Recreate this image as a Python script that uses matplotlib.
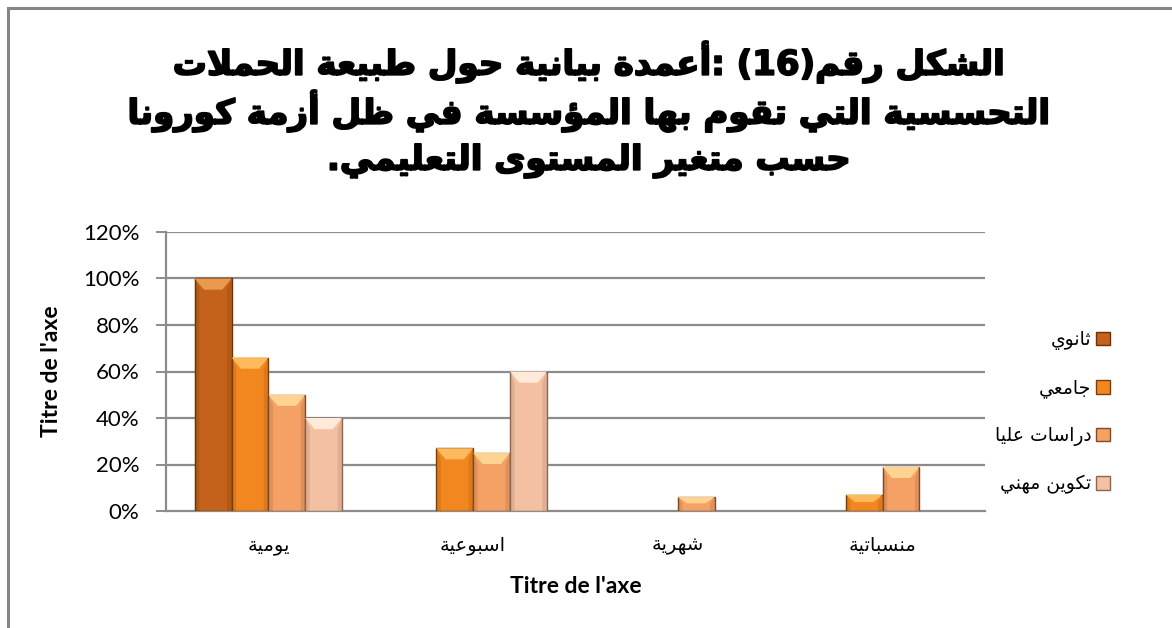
import re
import matplotlib
matplotlib.use("Agg")
import matplotlib.pyplot as plt
import matplotlib.patheffects as pe
from matplotlib.patches import Polygon, Patch
from matplotlib.lines import Line2D

# ---------------- data ----------------
categories = ["يومية", "اسبوعية", "شهرية", "منسباتية"]
series_names = ["ثانوي", "جامعي", "دراسات عليا", "تكوين مهني"]
thanawi = [100, 0, 0, 0]
jamii = [66, 27, 0, 7]
dirasat_olya = [50, 25, 6, 19]
takwin_mihni = [40, 60, 0, 0]
yticks = [0, 20, 40, 60, 80, 100, 120]
ytick_labels = ["0%", "20%", "40%", "60%", "80%", "100%", "120%"]
title_lines = [
    "الشكل رقم(16) :أعمدة بيانية حول طبيعة الحملات",
    "التحسسية التي تقوم بها المؤسسة في ظل أزمة كورونا",
    "حسب متغير المستوى التعليمي.",
]
axis_title = "Titre de l'axe"

# ---------------- Arabic shaping ----------------
FORMS = {
    '\u0621': (0xFE80,), '\u0622': (0xFE81, 0xFE82), '\u0623': (0xFE83, 0xFE84),
    '\u0624': (0xFE85, 0xFE86), '\u0625': (0xFE87, 0xFE88),
    '\u0626': (0xFE89, 0xFE8A, 0xFE8B, 0xFE8C), '\u0627': (0xFE8D, 0xFE8E),
    '\u0628': (0xFE8F, 0xFE90, 0xFE91, 0xFE92), '\u0629': (0xFE93, 0xFE94),
    '\u062A': (0xFE95, 0xFE96, 0xFE97, 0xFE98), '\u062B': (0xFE99, 0xFE9A, 0xFE9B, 0xFE9C),
    '\u062C': (0xFE9D, 0xFE9E, 0xFE9F, 0xFEA0), '\u062D': (0xFEA1, 0xFEA2, 0xFEA3, 0xFEA4),
    '\u062E': (0xFEA5, 0xFEA6, 0xFEA7, 0xFEA8), '\u062F': (0xFEA9, 0xFEAA),
    '\u0630': (0xFEAB, 0xFEAC), '\u0631': (0xFEAD, 0xFEAE), '\u0632': (0xFEAF, 0xFEB0),
    '\u0633': (0xFEB1, 0xFEB2, 0xFEB3, 0xFEB4), '\u0634': (0xFEB5, 0xFEB6, 0xFEB7, 0xFEB8),
    '\u0635': (0xFEB9, 0xFEBA, 0xFEBB, 0xFEBC), '\u0636': (0xFEBD, 0xFEBE, 0xFEBF, 0xFEC0),
    '\u0637': (0xFEC1, 0xFEC2, 0xFEC3, 0xFEC4), '\u0638': (0xFEC5, 0xFEC6, 0xFEC7, 0xFEC8),
    '\u0639': (0xFEC9, 0xFECA, 0xFECB, 0xFECC), '\u063A': (0xFECD, 0xFECE, 0xFECF, 0xFED0),
    '\u0641': (0xFED1, 0xFED2, 0xFED3, 0xFED4), '\u0642': (0xFED5, 0xFED6, 0xFED7, 0xFED8),
    '\u0643': (0xFED9, 0xFEDA, 0xFEDB, 0xFEDC), '\u0644': (0xFEDD, 0xFEDE, 0xFEDF, 0xFEE0),
    '\u0645': (0xFEE1, 0xFEE2, 0xFEE3, 0xFEE4), '\u0646': (0xFEE5, 0xFEE6, 0xFEE7, 0xFEE8),
    '\u0647': (0xFEE9, 0xFEEA, 0xFEEB, 0xFEEC), '\u0648': (0xFEED, 0xFEEE),
    '\u0649': (0xFEEF, 0xFEF0), '\u064A': (0xFEF1, 0xFEF2, 0xFEF3, 0xFEF4),
}
LAM_ALEF = {'\u0622': (0xFEF5, 0xFEF6), '\u0623': (0xFEF7, 0xFEF8),
            '\u0625': (0xFEF9, 0xFEFA), '\u0627': (0xFEFB, 0xFEFC)}


def shape(text):
    chars = list(text)
    units = []
    i = 0
    while i < len(chars):
        c = chars[i]
        if c == '\u0644' and i + 1 < len(chars) and chars[i + 1] in LAM_ALEF:
            units.append(('LA', chars[i + 1]))
            i += 2
        else:
            units.append(('C', c))
            i += 1

    def joins_next(u):
        if u is None:
            return False
        kind, c = u
        if kind == 'LA':
            return False
        return c in FORMS and len(FORMS[c]) == 4

    def is_ar(u):
        if u is None:
            return False
        kind, c = u
        return kind == 'LA' or c in FORMS

    out = []
    for k, u in enumerate(units):
        prev = units[k - 1] if k > 0 else None
        nxt = units[k + 1] if k + 1 < len(units) else None
        kind, c = u
        jp = joins_next(prev) and is_ar(u) and not (kind == 'C' and c == '\u0621')
        if kind == 'LA':
            out.append(chr(LAM_ALEF[c][1] if jp else LAM_ALEF[c][0]))
            continue
        if c not in FORMS:
            out.append(c)
            continue
        f = FORMS[c]
        jn = len(f) == 4 and is_ar(nxt)
        if len(f) == 1:
            out.append(chr(f[0]))
        elif jp and jn:
            out.append(chr(f[3]))
        elif jp:
            out.append(chr(f[1]))
        elif jn:
            out.append(chr(f[2]))
        else:
            out.append(chr(f[0]))
    return ''.join(out)


def ar(text):
    s = shape(text)
    tokens = re.findall(r'[0-9A-Za-z%]+|.', s)
    tokens.reverse()
    mirror = {'(': ')', ')': '('}
    return ''.join(mirror.get(t, t) for t in tokens)


# ---------------- figure ----------------
W, H = 1172, 628
fig = plt.figure(figsize=(W / 100, H / 100), dpi=100)
fig.patch.set_facecolor("white")


def fx(px):
    return px / W


def fy(py):
    return 1 - py / H


# outer chart border (top and left visible)
fig.add_artist(Line2D([fx(8), fx(1172)], [fy(8), fy(8)], color="#868686", lw=2.2))
fig.add_artist(Line2D([fx(8), fx(8)], [fy(8), fy(628)], color="#868686", lw=2.2))

ax = fig.add_axes([fx(166), fy(511), fx(985) - fx(166), fy(232) - fy(511)])
ax.set_xlim(-0.5, 3.5)
ax.set_ylim(0, 120)

series = [thanawi, jamii, dirasat_olya, takwin_mihni]
face = ["#C4621B", "#F2871F", "#F5A166", "#F3C0A2"]
cap = ["#E99A4E", "#FDBA5C", "#FFD392", "#FFE9D8"]
edge = ["#6B3208", "#7A3E0C", "#7F4A24", "#8A6550"]
bw = 0.18
grid_c = "#8C8C8C"

for yv in yticks[1:]:
    ax.axhline(yv, color=grid_c, lw=1.6, zorder=1)

for j, vals in enumerate(series):
    xs = [i + (j - 1.5) * bw for i in range(len(categories))]
    bars = ax.bar(xs, vals, width=bw, color=face[j], edgecolor=edge[j], lw=1.0, zorder=3)
    for b in bars:
        h = b.get_height()
        if h <= 0:
            b.set_visible(False)
            continue
        x0 = b.get_x()
        x1 = x0 + b.get_width()
        dy = min(4.8, h * 0.45)
        dx = 0.045
        ax.add_patch(Polygon([(x0, h), (x1, h), (x1 - dx, h - dy), (x0 + dx, h - dy)],
                             closed=True, facecolor=cap[j], edgecolor="none", zorder=4))
        ax.add_patch(Polygon([(x0, 0), (x0, h), (x0 + dx * 0.5, h - dy), (x0 + dx * 0.5, 0)],
                             closed=True, facecolor=edge[j], alpha=0.18, edgecolor="none", zorder=4))
        ax.add_patch(Polygon([(x1, 0), (x1, h), (x1 - dx * 0.5, h - dy), (x1 - dx * 0.5, 0)],
                             closed=True, facecolor=edge[j], alpha=0.18, edgecolor="none", zorder=4))

for s in ["top", "right"]:
    ax.spines[s].set_visible(False)
for s in ["left", "bottom"]:
    ax.spines[s].set_color(grid_c)
    ax.spines[s].set_linewidth(1.6)

ax.set_yticks(yticks)
ax.set_yticklabels(ytick_labels, fontfamily="Lato", fontsize=16, color="black")
ax.tick_params(axis="y", direction="out", length=7, width=1.4, color=grid_c, pad=12)
ax.set_xticks(range(len(categories)))
ax.set_xticklabels([ar(c) for c in categories], fontfamily="DejaVu Sans", fontsize=14)
ax.tick_params(axis="x", length=0, pad=18)

ax.set_ylabel(axis_title, fontfamily="Lato", fontweight="bold", fontsize=16.5, labelpad=15)
ax.set_xlabel(axis_title, fontfamily="Lato", fontweight="bold", fontsize=16.5, labelpad=15)

# title
ty = [62, 111, 161]
for line, y in zip(title_lines, ty):
    fig.text(fx(588), fy(y), ar(line), ha="center", va="center",
             fontfamily="DejaVu Sans", fontweight="bold", fontsize=24.5,
             path_effects=[pe.withStroke(linewidth=1.3, foreground="black")])

# legend
handles = [Patch(facecolor=face[j], edgecolor=edge[j], lw=1.0) for j in range(4)]
leg = fig.legend(handles, [ar(n) for n in series_names], loc="center right",
                 bbox_to_anchor=(fx(1127), fy(412)), frameon=False, markerfirst=False,
                 handlelength=0.75, handleheight=0.75, handletextpad=0.25,
                 labelspacing=1.5, prop={"family": "DejaVu Sans", "size": 13.5})

fig.savefig("out.png", dpi=100, facecolor="white")
